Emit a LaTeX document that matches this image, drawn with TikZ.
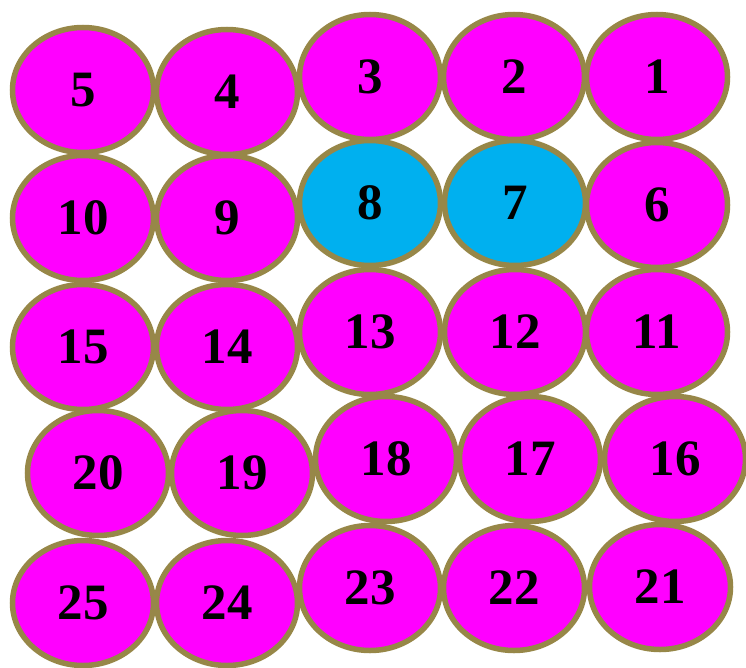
\documentclass[tikz,border=0pt]{standalone}
\usepackage{fontspec}
\setmainfont{Liberation Serif}
\usetikzlibrary{shapes.geometric}
\definecolor{Rim}{HTML}{978748}
\definecolor{Pink}{HTML}{FF00FF}
\definecolor{Sky}{HTML}{00B0EF}

\begin{document}
\begin{tikzpicture}[x=1pt,y=-1pt,
    ball/.style={ellipse,draw=Rim,line width=5.5pt,fill=Pink,inner sep=0pt,
      minimum width=141pt,minimum height=125pt,
      font=\fontsize{51}{58}\selectfont\bfseries},
    pick/.style={ball,fill=Sky}
  ]
    \useasboundingbox (0,0) rectangle (746,668);
    \foreach \num/\x/\y/\kind in {
      5/83/90/ball, 4/227/92/ball, 3/370/77/ball, 2/514/77/ball, 1/657/77/ball,
      10/83/218/ball, 9/227/218/ball, 8/370/203/pick, 7/515/203/pick, 6/657/205/ball,
      15/83/347/ball, 14/227/347/ball, 13/370/332/ball, 12/515/332/ball, 11/657/332/ball,
      20/98/473/ball, 19/242/473/ball, 18/386/459/ball, 17/530/459/ball, 16/675/459/ball,
      25/83/603/ball, 24/227/603/ball, 23/370/588/ball, 22/514/588/ball, 21/660/587/ball}{
      \node[\kind] (n\num) at (\x,\y) {\num};
    }
  \end{tikzpicture}
\end{document}
